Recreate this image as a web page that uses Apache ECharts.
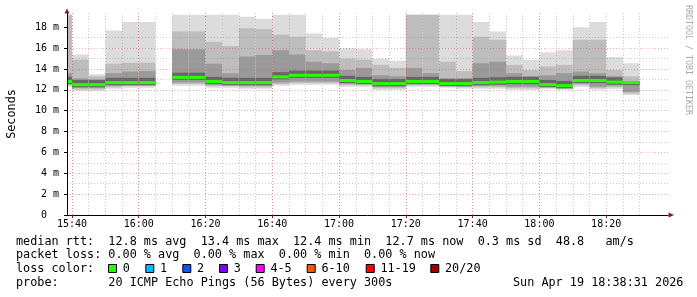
<!DOCTYPE html>
<html><head><meta charset="utf-8">
<script src="https://cdn.jsdelivr.net/npm/echarts@6/dist/echarts.min.js"></script>
<style>html,body{margin:0;padding:0;background:#fff}#c{width:697px;height:297px}</style>
</head><body><div id="c"></div>
<script>
// 5-minute slots (start times); null = no data
const slotStart = ['15:35','15:40','15:45','15:50','15:55','16:00','16:05','16:10','16:15','16:20','16:25','16:30','16:35','16:40','16:45','16:50','16:55','17:00','17:05','17:10','17:15','17:20','17:25','17:30','17:35','17:40','17:45','17:50','17:55','18:00','18:05','18:10','18:15','18:20','18:25'];
const smokeMax   = [19.2,15.4,13.5,17.7,18.5,18.5,null,19.2,19.2,19.2,19.2,19.0,18.8,19.2,19.2,17.4,17.0,16.0,15.9,15.0,14.8,19.2,19.2,19.2,19.2,18.5,17.6,15.3,14.9,15.6,15.8,18.0,18.5,15.15,14.55];
const smokeUpper = [19.2,14.9,13.3,14.5,14.6,14.6,null,17.6,17.6,16.6,16.2,17.9,17.8,17.3,17.1,15.8,15.7,15.0,14.9,14.4,14.1,19.2,19.2,14.7,13.8,17.1,16.8,14.4,13.9,14.25,14.4,16.8,16.8,13.9,13.3];
const smokeMid   = [13.6,13.1,13.0,13.6,13.75,13.8,null,15.9,15.9,14.5,13.6,15.2,15.35,15.8,15.4,14.7,14.55,13.9,14.1,13.4,13.3,14.1,13.6,13.1,13.1,14.55,14.7,13.6,13.3,13.4,13.6,13.75,13.6,13.3,12.8];
const medianRtt  = [12.8,12.5,12.5,12.7,12.7,12.7,null,13.2,13.2,12.8,12.7,12.7,12.7,13.25,13.4,13.4,13.4,12.9,12.8,12.6,12.6,12.8,12.8,12.6,12.6,12.7,12.75,12.8,12.8,12.5,12.4,12.9,12.9,12.75,12.7];
const smokeMin   = [12.3,11.9,11.9,12.1,12.2,12.2,null,12.4,12.4,12.2,12.2,12.1,12.1,12.4,12.5,12.5,12.5,12.3,12.3,12.0,12.0,12.3,12.3,12.2,12.1,12.1,12.1,12.0,12.0,12.1,12.0,12.3,12.0,12.1,11.5];

const xTickLabels = ['15:40','16:00','16:20','16:40','17:00','17:20','17:40','18:00','18:20'];
const xMinorTicks = ['15:40','15:45','15:50','15:55','16:00','16:05','16:10','16:15','16:20','16:25','16:30','16:35','16:40','16:45','16:50','16:55','17:00','17:05','17:10','17:15','17:20','17:25','17:30','17:35','17:40','17:45','17:50','17:55','18:00','18:05','18:10','18:15','18:20','18:25','18:30','18:35'];
const yTickValues = [0,2,4,6,8,10,12,14,16,18];
const yTickLabels = ['0  ','2 m','4 m','6 m','8 m','10 m','12 m','14 m','16 m','18 m'];
const yMinorValues = [1,3,5,7,9,11,13,15,17,19];
const windowStart = '15:38:31', windowEnd = '18:38:31';

const lossLabels = ['0','1','2','3','4-5','6-10','11-19','20/20'];
const lossColors = ['#26ff00','#00b8ff','#0059ff','#7e00ff','#ff00ff','#ff5500','#ff0000','#a00000'];

const statLines = [
  'median rtt:  12.8 ms avg  13.4 ms max  12.4 ms min  12.7 ms now  0.3 ms sd  48.8   am/s',
  'packet loss: 0.00 % avg  0.00 % max  0.00 % min  0.00 % now',
  'loss color:',
  'probe:       20 ICMP Echo Pings (56 Bytes) every 300s'
];
const stampText = 'Sun Apr 19 18:38:31 2026';
const creditText = 'RRDTOOL / TOBI OETIKER';

// time -> minutes of day
function tm(hm){const p=hm.split(':').map(Number);return p[0]*60+p[1]+(p[2]||0)/60;}
function hhmm(v){const m=Math.round(v);return String(Math.floor(m/60)).padStart(2,'0')+':'+String(m%60).padStart(2,'0');}

const smokeData = [];
slotStart.forEach((s,i)=>{
  if(smokeMax[i]==null) return;
  smokeData.push([tm(s), tm(s)+5, smokeMax[i], smokeUpper[i], smokeMid[i], medianRtt[i], smokeMin[i]]);
});

const MONO = '"DejaVu Sans Mono", monospace';
const chart = echarts.init(document.getElementById('c'), null, {renderer:'canvas'});

function renderSmoke(params, api){
  const cs = params.coordSys;
  const t0=api.value(0), t1=api.value(1);
  const hi=api.value(2), u2=api.value(3), u1=api.value(4), med=api.value(5), lo=api.value(6);
  function rect(vLo, vHi, color){
    const a=api.coord([t0,vHi]), b=api.coord([t1,vLo]);
    const x0=Math.max(a[0],cs.x), x1=Math.min(b[0],cs.x+cs.width);
    if(x1<=x0) return null;
    return {type:'rect', shape:{x:x0,y:a[1],width:x1-x0,height:b[1]-a[1]}, style:{fill:color}};
  }
  const children = [];
  const push = r=>{ if(r) children.push(r); };
  push(rect(lo, hi, '#dcdcdc'));
  push(rect(lo+0.15, u2, '#bdbdbd'));
  push(rect(Math.min(lo+0.3, med-0.25), u1, '#9a9a9a'));
  push(rect(med-0.25, Math.max(med+0.1, Math.min(u1, med+0.45)), '#666666'));
  const a=api.coord([t0,med]), b=api.coord([t1,med]);
  const x0=Math.max(a[0],cs.x), x1=Math.min(b[0],cs.x+cs.width);
  if(x1>x0) children.push({type:'rect', shape:{x:x0,y:a[1]-1.5,width:x1-x0,height:3}, style:{fill:lossColors[0]}});
  return {type:'group', children};
}

const graphics = [];
statLines.forEach((t,i)=>{
  graphics.push({type:'text', x:16, y:241.6+i*13.7, style:{text:t, font:'11.8px '+MONO, fill:'#000', verticalAlign:'middle'}});
});
graphics.push({type:'text', x:513, y:241.6+3*13.7, style:{text:stampText, font:'11.8px '+MONO, fill:'#000', verticalAlign:'middle'}});
const boxX = [108,145.3,182.3,219,255.7,306.7,365.7,430.3];
lossLabels.forEach((l,i)=>{
  graphics.push({type:'rect', shape:{x:boxX[i]+0.5, y:264.5, width:8, height:8}, style:{fill:lossColors[i], stroke:'#000', lineWidth:1}});
  graphics.push({type:'text', x:boxX[i]+14.7, y:241.6+2*13.7, style:{text:l, font:'11.8px '+MONO, fill:'#000', verticalAlign:'middle'}});
});
graphics.push({type:'text', x:688.5, y:5, rotation:-Math.PI/2, style:{text:creditText, font:'8.3px '+MONO, fill:'#aaaaaa', verticalAlign:'middle', align:'left'}});
graphics.push({type:'polygon', shape:{points:[[64.5,13.5],[69.5,13.5],[67,8.5]]}, style:{fill:'#8b1a1a'}, z:10});
graphics.push({type:'polygon', shape:{points:[[668.5,212.5],[668.5,217.5],[674,215]]}, style:{fill:'#8b1a1a'}, z:10});

const YMAX = 19.37;
const XMIN = tm(windowStart), XMAX = tm(windowEnd);
const gray = {color:'rgba(140,140,140,0.45)', type:[1,2], width:1};
const red = {color:'rgba(235,70,70,0.45)', type:[1,2], width:1};
const option = {
  backgroundColor:'#ffffff',
  animation:false,
  grid:{left:67, top:13, width:601, height:202, containLabel:false, outerBoundsMode:'none'},
  xAxis:[
    {type:'value', position:'bottom', min:XMIN, max:XMAX, z:5,
     axisLine:{show:false}, axisTick:{show:false, customValues:xMinorTicks.map(tm)}, axisLabel:{show:false},
     splitLine:{show:true, showMinLine:true, showMaxLine:false, lineStyle:gray}},
    {type:'value', position:'bottom', min:XMIN, max:XMAX, z:6,
     axisLine:{show:true, onZero:false, lineStyle:{color:'#000', width:1}},
     axisTick:{show:true, length:3, customValues:xTickLabels.map(tm), lineStyle:{color:'#8b1a1a'}},
     axisLabel:{show:true, margin:4, color:'#000', fontFamily:MONO, fontSize:10,
       customValues:xTickLabels.map(tm), formatter:(v)=>hhmm(v)},
     splitLine:{show:true, showMinLine:true, showMaxLine:false, lineStyle:red}}
  ],
  yAxis:[
    {type:'value', position:'left', min:0, max:YMAX, z:5,
     axisLine:{show:false}, axisTick:{show:false, customValues:yMinorValues}, axisLabel:{show:false},
     splitLine:{show:true, showMinLine:false, showMaxLine:false, lineStyle:gray}},
    {type:'value', position:'left', min:0, max:YMAX, z:6,
     name:'Seconds', nameLocation:'middle', nameGap:49, nameRotate:90,
     nameTextStyle:{fontFamily:MONO, fontSize:11.8, color:'#000'},
     axisLine:{show:true, onZero:false, lineStyle:{color:'#000', width:1}},
     axisTick:{show:true, length:3, customValues:yTickValues, lineStyle:{color:'#000'}},
     axisLabel:{show:true, margin:8, color:'#000', fontFamily:MONO, fontSize:10, customValues:yTickValues,
       formatter:(v)=>{const i=yTickValues.indexOf(v);return i>=0?yTickLabels[i]:'';}},
     splitLine:{show:true, showMinLine:false, showMaxLine:false, lineStyle:red}}
  ],
  series:[
    {type:'custom', xAxisIndex:0, yAxisIndex:0, renderItem:renderSmoke, data:smokeData, encode:{x:[0,1], y:[2,3,4,5,6]}, z:2, clip:true}
  ],
  graphic:graphics
};
chart.setOption(option);
</script></body></html>
